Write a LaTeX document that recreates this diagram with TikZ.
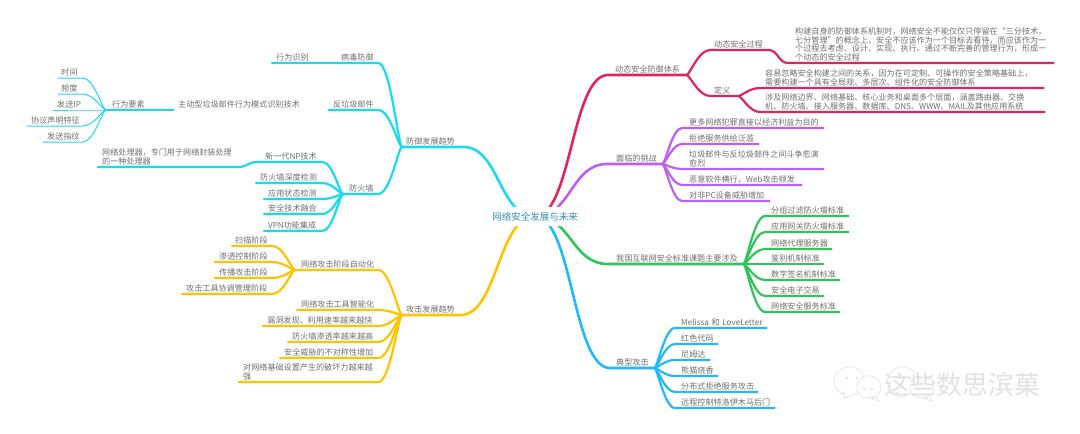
\documentclass[tikz,border=0pt]{standalone}
\usepackage{fontspec}
\setmainfont{Noto Sans CJK SC}
\usetikzlibrary{calc,backgrounds}

\definecolor{wordgray}{HTML}{6E6E6E}
\definecolor{roottext}{HTML}{3A90B2}
\definecolor{rootedge}{HTML}{EEF3F6}
\definecolor{cyanline}{HTML}{18DCEB}
\definecolor{orangeline}{HTML}{FFC400}
\definecolor{crimsonline}{HTML}{E0245F}
\definecolor{purpleline}{HTML}{BC5FF2}
\definecolor{greenline}{HTML}{2FC55A}
\definecolor{blueline}{HTML}{20B8FF}
\definecolor{markgray}{HTML}{E2E2E2}

\tikzset{
  topic/.style={anchor=south west,inner xsep=6pt,inner ysep=1.5pt,align=left,
    text=wordgray,font=\fontsize{8.1}{8.8}\selectfont},
  leftt/.style={topic,inner xsep=4pt},
  rootnode/.style={draw=rootedge,fill=white,rounded corners=3pt,minimum width=100pt,
    minimum height=19pt,inner sep=0pt,text=roottext,font=\fontsize{9.5}{11}\selectfont},
  rootbranch/.style={line width=2.6pt,line cap=round},
  branch/.style={line width=2.2pt,line cap=round},
  thinbranch/.style={line width=1pt,line cap=round},
  linkl/.style={to path={let \p1=(\tikztostart),\p2=(\tikztotarget.south east) in
    .. controls ({\x1+#1*(\x2-\x1)},\y1) and ({(\x1+\x2)/2},\y2) .. (\p2) -- (\tikztotarget.south west)}},
  linkl/.default=0.15,
  linkr/.style={to path={let \p1=(\tikztostart),\p2=(\tikztotarget.south west) in
    .. controls ({\x1+#1*(\x2-\x1)},\y1) and ({(\x1+\x2)/2},\y2) .. (\p2) -- (\tikztotarget.south east)}},
  linkr/.default=0.15,
  wechat/.pic={
    \draw[markgray,fill=white,line width=.6pt] (-9,10) -- (-7,17) -- (0,14.5) arc (80:-250:15 and 14.5) -- cycle;
    \fill[markgray] (-5,-3) circle (1.3) (5,-3) circle (1.3);
    \draw[markgray,fill=white,line width=.6pt] (24,15.5) -- (27,20) -- (19,17.5) arc (80:-250:12 and 11.5) -- cycle;
    \fill[markgray] (12,8) circle (1.2) (20,8) circle (1.2);
  }
}

\begin{document}
\begin{tikzpicture}[x=1pt,y=-1pt]
  \useasboundingbox (0,0) rectangle (1080,434);

  % 中心主题
  \node[rootnode] (root) at (535,216.5) {网络安全发展与未来};

  % 防御发展趋势
  \node[leftt,text width=53pt] (fy) at (402,147) {防御发展趋势};
  \node[leftt,text width=33pt] (bd) at (337,63) {病毒防御};
  \node[leftt,text width=57pt] (xwsb) at (272,63) {行为识别};
  \node[leftt,text width=41pt] (fl) at (329,110) {反垃圾邮件};
  \node[leftt,text width=147pt] (zd) at (174,110) {主动型垃圾邮件行为模式识别技术};
  \node[topic,text width=56pt] (ys) at (106,110) {行为要素};
  \node[leftt,inner xsep=3pt,text width=18pt] (sj) at (58,78) {时间};
  \node[leftt,inner xsep=3pt,text width=18pt] (pd) at (58,94) {频度};
  \node[leftt,text width=21pt] (ip) at (53,110) {发送IP};
  \node[leftt,text width=47pt] (xy) at (27,126) {协议声明特征};
  \node[leftt,text width=31pt] (zw) at (43,142) {发送指纹};
  \node[topic,text width=23pt] (fhq) at (343,194) {防火墙};
  \node[leftt,inner xsep=8pt,text width=49pt] (np) at (257,162) {新一代NP技术};
  \node[leftt,text width=132pt] (clq) at (98,167) {网络处理器，专门用于网络封装处理\\的一种处理器};
  \node[leftt,text width=58pt] (sdjc) at (256,183) {防火墙深度检测};
  \node[leftt,text width=50pt] (ztjc) at (264,199) {应用状态检测};
  \node[leftt,text width=50pt] (jsrh) at (264,214) {安全技术融合};
  \node[leftt,text width=50pt] (vpn) at (264,231) {VPN功能集成};

  % 攻击发展趋势
  \node[leftt,text width=50pt] (gj) at (402,315) {攻击发展趋势};
  \node[topic,text width=71pt] (zdh) at (295,270) {网络攻击阶段自动化};
  \node[leftt,inner xsep=3pt,text width=34pt] (sm) at (232,246) {扫描阶段};
  \node[leftt,text width=49pt] (st) at (215,262) {渗透控制阶段};
  \node[leftt,text width=49pt] (cb) at (215,278) {传播攻击阶段};
  \node[leftt,text width=82pt] (xt) at (182,294) {攻击工具协调管理阶段};
  \node[leftt,text width=73pt] (zn) at (297,310) {网络攻击工具智能化};
  \node[leftt,text width=107pt] (ld) at (263,326) {漏洞发现、利用速率越来越快};
  \node[leftt,text width=82pt] (fst) at (288,342) {防火墙渗透率越来越高};
  \node[leftt,text width=90pt] (bdc) at (280,358) {安全威胁的不对称性增加};
  \node[leftt,text width=131pt] (ph) at (239,382) {对网络基础设置产生的破坏力越来越\\强};

  % 动态安全防御体系
  \node[topic,inner xsep=7pt,text width=64pt] (dt) at (608,75) {动态安全防御体系};
  \node[leftt,text width=50pt] (gc) at (710,50) {动态安全过程};
  \node[topic,inner xsep=7pt,text width=251pt] (gjzs) at (788,63) {构建自身的防御体系机制时，网络安全不能仅仅只停留在“三分技术，\\七分管理”的概念上，安全不应该作为一个目标去看待，而应该作为一\\个过程去考虑、设计、实现、执行。通过不断完善的管理行为，形成一\\个动态的安全过程};
  \node[leftt,text width=20pt] (dy) at (710,96) {定义};
  \node[topic,inner xsep=5pt,text width=273pt] (ry) at (760,88) {容易忽略安全构建之间的关系，因为在可定制、可操作的安全策略基础上，\\需要构建一个具有全局观、多层次、组件化的安全防御体系};
  \node[topic,inner xsep=5pt,text width=274pt] (sji) at (760,112) {涉及网络边界、网络基础、核心业务和桌面多个层面，涵盖路由器、交换\\机、防火墙、接入服务器、数据库、DNS、WWW、MAIL及其他应用系统};

  % 面临的挑战
  \node[topic,inner xsep=9pt,text width=37pt] (tz) at (607,164) {面临的挑战};
  \node[topic,inner xsep=7pt,text width=127pt] (fz) at (682,128) {更多网络犯罪直接以经济利益为目的};
  \node[topic,inner xsep=7pt,text width=62pt] (jj) at (682,144) {拒绝服务供给泛滥};
  \node[topic,inner xsep=7pt,text width=127pt] (lj) at (682,169) {垃圾邮件与反垃圾邮件之间斗争愈演\\愈烈};
  \node[topic,inner xsep=7pt,text width=105pt] (ey) at (682,185) {恶意软件横行，Web攻击频发};
  \node[topic,inner xsep=7pt,text width=73pt] (fpc) at (682,201) {对非PC设备威胁增加};

  % 我国互联网安全标准课题主要涉及
  \node[topic,inner xsep=8pt,text width=119pt] (wg) at (608,264) {我国互联网安全标准课题主要涉及};
  \node[topic,text width=71pt] (fzgl) at (765,216) {分组过滤防火墙标准};
  \node[topic,text width=71pt] (yywg) at (765,232) {应用网关防火墙标准};
  \node[topic,text width=54pt] (dl) at (765,249) {网络代理服务器};
  \node[topic,text width=46pt] (jb) at (765,264) {鉴别机制标准};
  \node[topic,text width=62pt] (qm) at (765,280) {数字签名机制标准};
  \node[topic,text width=46pt] (jy) at (765,296) {安全电子交易};
  \node[topic,text width=62pt] (fw) at (765,312) {网络安全服务标准};

  % 典型攻击
  \node[topic,text width=32pt] (dx) at (610,368) {典型攻击};
  \node[topic,text width=79pt] (ml) at (675,328) {\mbox{Melissa 和 LoveLetter}};
  \node[topic,text width=30pt] (hs) at (675,344) {红色代码};
  \node[topic,text width=22pt] (nm) at (675,360) {尼姆达};
  \node[topic,text width=30pt] (xm) at (675,376) {熊猫烧香};
  \node[topic,text width=70pt] (fbs) at (675,392) {分布式拒绝服务攻击};
  \node[topic,text width=87pt] (mm) at (675,408) {远程控制特洛伊木马后门};

  % 水印
  \pic at (852,381) {wechat};
  \pic at (905,381) {wechat};
  \node[text=markgray,inner sep=0pt,font=\fontsize{26}{28}\selectfont] (mark) at (962.5,385) {这些数思滨菓};

  % 连线放在背景层
  \begin{scope}[on background layer]
    \draw[rootbranch,cyanline] (root.center) to[linkl=0.5] (fy);
    \draw[branch,cyanline] (fy.south west) to[linkl] (bd);
    \draw[branch,cyanline] (bd.south west) -- (xwsb.south west);
    \draw[branch,cyanline] (fy.south west) to[linkl] (fl);
    \draw[branch,cyanline] (fl.south west) -- (zd.south east);
    \draw[branch,cyanline] (zd.south west) -- (ys.south east) -- (ys.south west);
    \draw[thinbranch,cyanline] (ys.south west) to[linkl] (sj);
    \draw[thinbranch,cyanline] (ys.south west) to[linkl] (pd);
    \draw[thinbranch,cyanline] (ys.south west) to[linkl] (ip);
    \draw[thinbranch,cyanline] (ys.south west) to[linkl] (xy);
    \draw[thinbranch,cyanline] (ys.south west) to[linkl] (zw);
    \draw[branch,cyanline] (fy.south west) to[linkl] (fhq);
    \draw[branch,cyanline] (fhq.south west) to[linkl] (np);
    \draw[branch,cyanline] (np.south west) to[linkl=0.5] (clq);
    \draw[branch,cyanline] (fhq.south west) to[linkl] (sdjc);
    \draw[branch,cyanline] (fhq.south west) to[linkl] (ztjc);
    \draw[branch,cyanline] (fhq.south west) to[linkl] (jsrh);
    \draw[branch,cyanline] (fhq.south west) to[linkl] (vpn);

    \draw[rootbranch,orangeline] (root.center) to[linkl=0.5] (gj);
    \draw[branch,orangeline] (gj.south west) to[linkl] (zdh);
    \draw[branch,orangeline] (zdh.south west) to[linkl] (sm);
    \draw[branch,orangeline] (zdh.south west) to[linkl] (st);
    \draw[branch,orangeline] (zdh.south west) to[linkl] (cb);
    \draw[branch,orangeline] (zdh.south west) to[linkl] (xt);
    \draw[branch,orangeline] (gj.south west) to[linkl] (zn);
    \draw[branch,orangeline] (gj.south west) to[linkl] (ld);
    \draw[branch,orangeline] (gj.south west) to[linkl] (fst);
    \draw[branch,orangeline] (gj.south west) to[linkl] (bdc);
    \draw[branch,orangeline] (gj.south west) to[linkl] (ph);

    \draw[rootbranch,crimsonline] (root.center) to[linkr=0.5] (dt);
    \draw[branch,crimsonline] (dt.south east) to[linkr] (gc);
    \draw[branch,crimsonline] (gc.south east) to[linkr=0.5] (gjzs);
    \draw[branch,crimsonline] (dt.south east) to[linkr] (dy);
    \draw[branch,crimsonline] (dy.south east) to[linkr] (ry);
    \draw[branch,crimsonline] (dy.south east) to[linkr] (sji);

    \draw[rootbranch,purpleline] (root.center) to[linkr=0.5] (tz);
    \draw[branch,purpleline] (tz.south east) to[linkr] (fz);
    \draw[branch,purpleline] (tz.south east) to[linkr] (jj);
    \draw[branch,purpleline] (tz.south east) to[linkr] (lj);
    \draw[branch,purpleline] (tz.south east) to[linkr] (ey);
    \draw[branch,purpleline] (tz.south east) to[linkr] (fpc);

    \draw[rootbranch,greenline] (root.center) to[linkr=0.5] (wg);
    \draw[branch,greenline] (wg.south east) to[linkr] (fzgl);
    \draw[branch,greenline] (wg.south east) to[linkr] (yywg);
    \draw[branch,greenline] (wg.south east) to[linkr] (dl);
    \draw[branch,greenline] (wg.south east) to[linkr] (jb);
    \draw[branch,greenline] (wg.south east) to[linkr] (qm);
    \draw[branch,greenline] (wg.south east) to[linkr] (jy);
    \draw[branch,greenline] (wg.south east) to[linkr] (fw);

    \draw[rootbranch,blueline] (root.center) to[linkr=0.5] (dx);
    \draw[branch,blueline] (dx.south east) to[linkr] (ml);
    \draw[branch,blueline] (dx.south east) to[linkr] (hs);
    \draw[branch,blueline] (dx.south east) to[linkr] (nm);
    \draw[branch,blueline] (dx.south east) to[linkr] (xm);
    \draw[branch,blueline] (dx.south east) to[linkr] (fbs);
    \draw[branch,blueline] (dx.south east) to[linkr] (mm);
  \end{scope}
\end{tikzpicture}
\end{document}
